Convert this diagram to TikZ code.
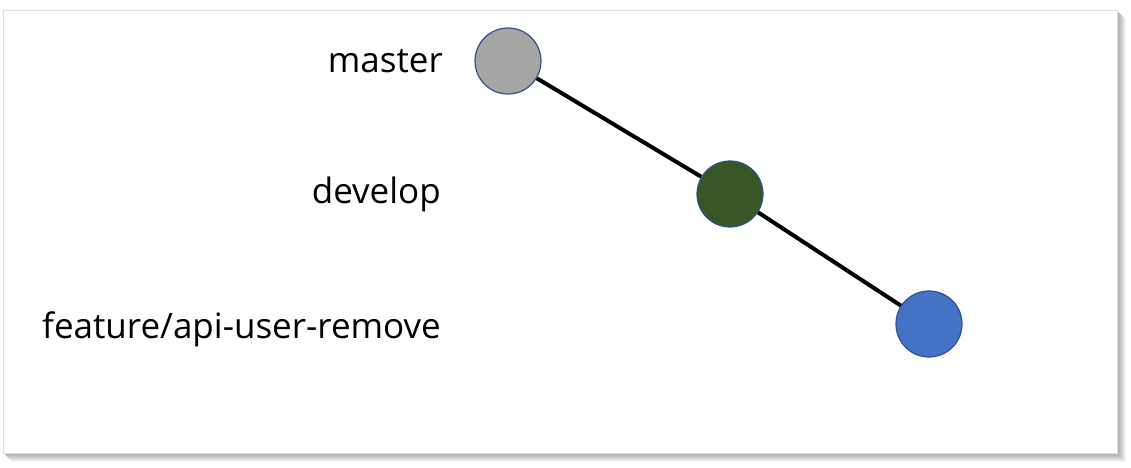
\documentclass[tikz,border=0pt]{standalone}
\usepackage{fontspec}
\setmainfont{Open Sans}
\definecolor{commitgray}{HTML}{A6A6A6}
\definecolor{commitgreen}{HTML}{375623}
\definecolor{commitblue}{HTML}{4472C4}
\definecolor{commitedge}{HTML}{2F528F}
\tikzset{
  commit/.style={circle,draw=commitedge,line width=1.2pt,minimum size=66pt,inner sep=0pt},
  branchlabel/.style={anchor=base east,inner sep=0pt,font=\fontsize{35}{40}\selectfont}
}
\begin{document}
\begin{tikzpicture}[x=1pt,y=-1pt]
  \useasboundingbox (0,0) rectangle (1131,467);
  % frame with soft shadow
  \foreach \s/\c in {9/96,8/92,7/88,6/84,5/80,4/76,3/72,2/70,1/68}
    \fill[black!\the\numexpr100-\c\relax] (3+\s,10+\s) rectangle (1117+\s,453+\s);
  \fill[white,draw=black!12,line width=0.8pt] (3,10) rectangle (1117,453);
  % commits
  \node[commit,fill=commitgray] (master) at (508,61) {};
  \node[commit,fill=commitgreen] (develop) at (730,194) {};
  \node[commit,fill=commitblue] (feature) at (929,324) {};
  \draw[line width=4pt] (master) -- (develop);
  \draw[line width=4pt] (develop) -- (feature);
  % labels
  \node[branchlabel] (masterlbl) at (443,72) {master};
  \node[branchlabel] (developlbl) at (441,203) {develop};
  \node[branchlabel] (featurelbl) at (441,338) {feature/api-user-remove};
\end{tikzpicture}
\end{document}
